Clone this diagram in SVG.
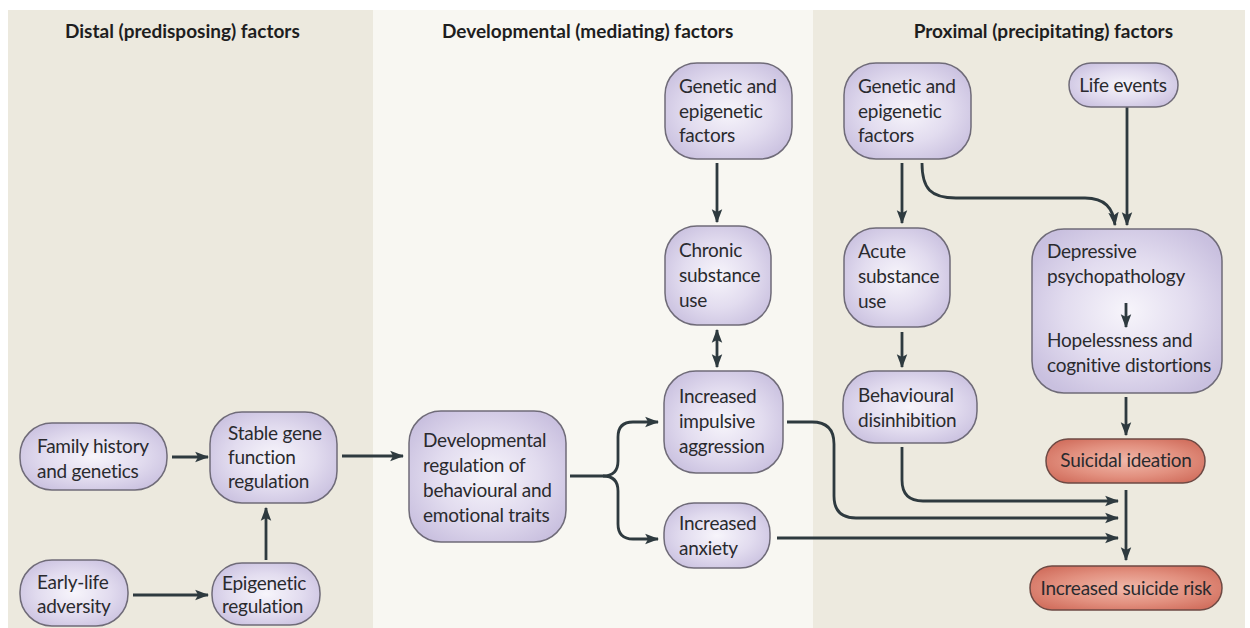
<svg xmlns="http://www.w3.org/2000/svg" width="1250" height="628" viewBox="0 0 1250 628">
<defs>
<radialGradient id="gp" cx="50%" cy="50%" r="60%">
<stop offset="0" stop-color="#f7f5fb"/>
<stop offset="0.55" stop-color="#e2dcef"/>
<stop offset="1" stop-color="#c9c0df"/>
</radialGradient>
<radialGradient id="gr" cx="50%" cy="50%" r="60%">
<stop offset="0" stop-color="#f0b8aa"/>
<stop offset="0.6" stop-color="#e2907f"/>
<stop offset="1" stop-color="#d2705f"/>
</radialGradient>
<marker id="ah" markerUnits="userSpaceOnUse" markerWidth="14" markerHeight="14" viewBox="0 0 12 12" refX="11" refY="6" orient="auto">
<path d="M0,1.5 L12,6 L0,10.5 L2.5,6 z" fill="#2e3a3f"/>
</marker>
<marker id="ahs" markerUnits="userSpaceOnUse" markerWidth="14" markerHeight="14" viewBox="0 0 12 12" refX="11" refY="6" orient="auto-start-reverse">
<path d="M0,1.5 L12,6 L0,10.5 L2.5,6 z" fill="#2e3a3f"/>
</marker>
</defs>
<style>
.np{fill:url(#gp);stroke:#6f6b78;stroke-width:1.5}
.nr{fill:url(#gr);stroke:#6e4a44;stroke-width:1.5}
.t{font-family:Lato,"Liberation Sans",sans-serif;font-size:19px;letter-spacing:-0.25px;fill:#2a2a2e}
.tc{text-anchor:middle}
.h{font-family:Lato,"Liberation Sans",sans-serif;font-size:19px;font-weight:bold;fill:#1e1e1e}
.c{fill:none;stroke:#2e3a3f;stroke-width:2.8;marker-end:url(#ah)}
</style>
<rect x="0" y="0" width="1250" height="628" fill="#ffffff"/>
<rect x="8" y="10" width="365" height="618" fill="#ece9de"/>
<rect x="373" y="10" width="440" height="618" fill="#f8f7f2"/>
<rect x="813" y="10" width="432" height="618" fill="#edeadf"/>
<g id="headers">
<text class="h" x="65" y="38">Distal (predisposing) factors</text>
<text class="h" x="442" y="38">Developmental (mediating) factors</text>
<text class="h" x="1173" y="38" text-anchor="end">Proximal (precipitating) factors</text>
</g>
<g id="connectors">
<path class="c" d="M172,457 H208"/>
<path class="c" d="M133,595 H208"/>
<path class="c" d="M266,560 V508"/>
<path class="c" d="M342,456 H403"/>
<path class="c" d="M570,476 H603 Q618,476 618,461 V437 Q618,422 633,422 H658"/>
<path class="c" d="M603,476 Q618,476 618,491 V524 Q618,539 633,539 H658"/>
<path class="c" d="M717,163 V222"/>
<path class="c" style="marker-start:url(#ahs)" d="M717,330 V367"/>
<path class="c" d="M902,163 V223"/>
<path class="c" d="M922,163 C922,189 931,198 956,198 H1085 C1105,198 1113,208 1115,225"/>
<path class="c" d="M1127,107 V225"/>
<path class="c" d="M902,332 V367"/>
<path class="c" d="M1126,397 V435"/>
<path class="c" d="M1126,490 V560"/>
<path class="c" d="M902,447 V480 Q902,501 923,501 H1118"/>
<path class="c" d="M787,422 H812 Q834,422 834,444 V496 Q834,518 856,518 H1118"/>
<path class="c" d="M777,538 H1118"/>
</g>
<g id="family">
<rect class="np" x="20" y="423" width="147" height="67" rx="32"/>
<text class="t" x="37" y="453">Family history</text>
<text class="t" x="37" y="478">and genetics</text>
</g>
<g id="stable">
<rect class="np" x="210" y="412" width="127" height="91" rx="32"/>
<text class="t" x="228" y="440">Stable gene</text>
<text class="t" x="228" y="464">function</text>
<text class="t" x="228" y="488">regulation</text>
</g>
<g id="early">
<rect class="np" x="20" y="560" width="108" height="66" rx="32"/>
<text class="t" x="37" y="589">Early-life</text>
<text class="t" x="37" y="613">adversity</text>
</g>
<g id="epigenetic">
<rect class="np" x="212" y="563" width="108" height="62" rx="30"/>
<text class="t" x="222" y="590">Epigenetic</text>
<text class="t" x="222" y="613">regulation</text>
</g>
<g id="developmental">
<rect class="np" x="409" y="411" width="157" height="131" rx="32"/>
<text class="t" x="423" y="447">Developmental</text>
<text class="t" x="423" y="472">regulation of</text>
<text class="t" x="423" y="497">behavioural and</text>
<text class="t" x="423" y="522">emotional traits</text>
</g>
<g id="genetic-mid">
<rect class="np" x="665" y="63" width="127" height="96" rx="32"/>
<text class="t" x="679" y="93">Genetic and</text>
<text class="t" x="679" y="118">epigenetic</text>
<text class="t" x="679" y="142">factors</text>
</g>
<g id="chronic">
<rect class="np" x="665" y="226" width="106" height="99" rx="32"/>
<text class="t" x="679" y="257">Chronic</text>
<text class="t" x="679" y="282">substance</text>
<text class="t" x="679" y="307">use</text>
</g>
<g id="aggression">
<rect class="np" x="664" y="371" width="119" height="102" rx="32"/>
<text class="t" x="679" y="403">Increased</text>
<text class="t" x="679" y="428">impulsive</text>
<text class="t" x="679" y="453">aggression</text>
</g>
<g id="anxiety">
<rect class="np" x="664" y="503" width="106" height="65" rx="30"/>
<text class="t" x="679" y="530">Increased</text>
<text class="t" x="679" y="555">anxiety</text>
</g>
<g id="genetic-right">
<rect class="np" x="844" y="63" width="127" height="96" rx="32"/>
<text class="t" x="858" y="93">Genetic and</text>
<text class="t" x="858" y="118">epigenetic</text>
<text class="t" x="858" y="142">factors</text>
</g>
<g id="life">
<rect class="np" x="1069" y="63" width="109" height="44" rx="22"/>
<text class="t tc" x="1123" y="92">Life events</text>
</g>
<g id="acute">
<rect class="np" x="844" y="228" width="106" height="99" rx="32"/>
<text class="t" x="858" y="258">Acute</text>
<text class="t" x="858" y="283">substance</text>
<text class="t" x="858" y="308">use</text>
</g>
<g id="behavioural">
<rect class="np" x="843" y="371" width="134" height="72" rx="32"/>
<text class="t" x="858" y="402">Behavioural</text>
<text class="t" x="858" y="427">disinhibition</text>
</g>
<g id="depressive">
<rect class="np" x="1032" y="229" width="190" height="164" rx="32"/>
<text class="t" x="1047" y="258">Depressive</text>
<text class="t" x="1047" y="283">psychopathology</text>
<path class="c" d="M1126,303 V327"/>
<text class="t" x="1047" y="347">Hopelessness and</text>
<text class="t" x="1047" y="372">cognitive distortions</text>
</g>
<g id="ideation">
<rect class="nr" x="1046" y="439" width="159" height="44" rx="22"/>
<text class="t tc" x="1126" y="467">Suicidal ideation</text>
</g>
<g id="risk">
<rect class="nr" x="1030" y="566" width="192" height="44" rx="22"/>
<text class="t tc" x="1126" y="595">Increased suicide risk</text>
</g>
</svg>
